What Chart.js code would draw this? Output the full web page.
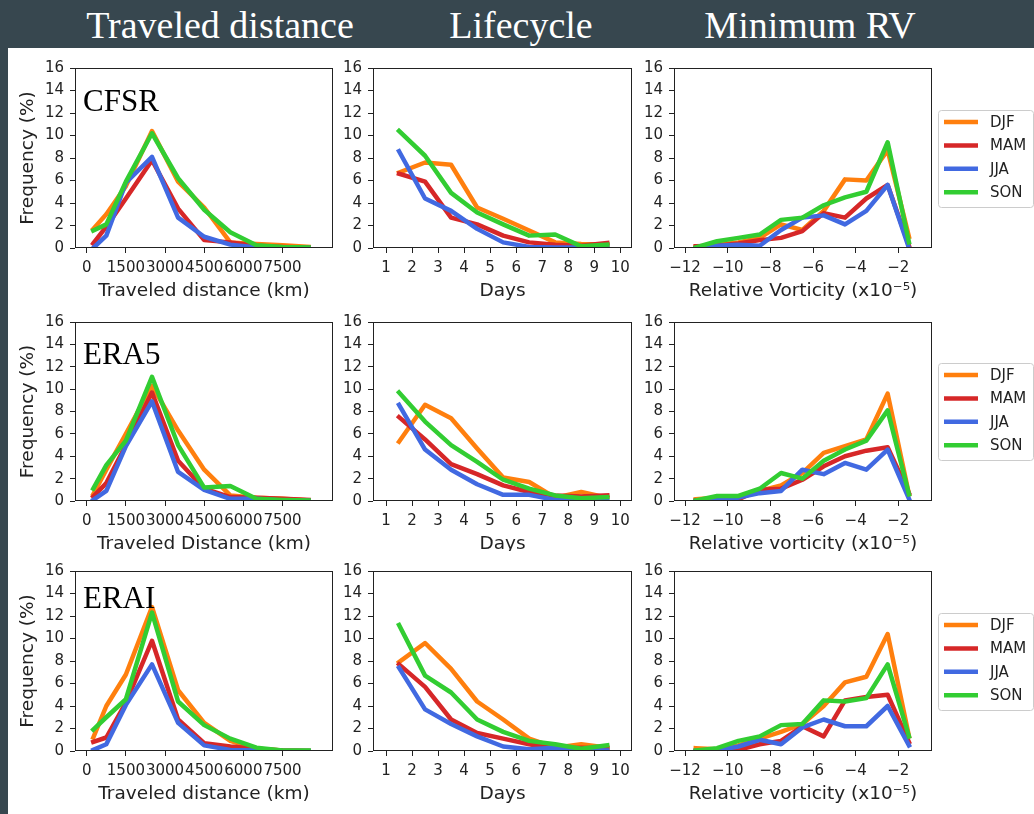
<!DOCTYPE html>
<html>
<head>
<meta charset="utf-8">
<script src="https://cdn.jsdelivr.net/npm/chart.js@4"></script>
<style>
  html, body { margin: 0; padding: 0; }
  body { width: 1034px; height: 814px; background: #37474f; position: relative; overflow: hidden; }
  #panel { position: absolute; left: 8px; top: 48px; width: 1026px; height: 766px; background: #fff; }
  .head { position: absolute; top: 5px; width: 320px; color: #fff; font-family: "Liberation Serif", serif;
          font-size: 38px; line-height: 40px; text-align: center; white-space: nowrap; }
  .box { position: absolute; overflow: hidden; }
</style>
</head>
<body>
<div id="panel"></div>
<div class="head" style="left:60px">Traveled distance</div>
<div class="head" style="left:361px">Lifecycle</div>
<div class="head" style="left:650px">Minimum RV</div>
<script>
// seasons, drawn in this order (SON ends up on top)
const seasons = ['DJF', 'MAM', 'JJA', 'SON'];
const seasonColors = ['#ff7f0e', '#d62728', '#4169e1', '#32cd32'];
const datasetNames = ['CFSR', 'ERA5', 'ERAI'];

// bin centres
const distanceBins = [250, 750, 1500, 2500, 3500, 4500, 5500, 6500, 7500, 8500];
const dayBins = [1.5, 2.5, 3.5, 4.5, 5.5, 6.5, 7.5, 8.5, 9.5];
const vorticityBins = [-11.5, -10.5, -9.5, -8.5, -7.5, -6.5, -5.5, -4.5, -3.5, -2.5, -1.5];

// tick labels
const distanceTicks = [0, 1500, 3000, 4500, 6000, 7500];
const dayTicks = [1, 2, 3, 4, 5, 6, 7, 8, 9, 10];
const vorticityTicks = [-12, -10, -8, -6, -4, -2];
const frequencyTicks = [0, 2, 4, 6, 8, 10, 12, 14, 16];

// frequency (%) per season: DJF, MAM, JJA, SON
const cfsrDistance = [
  [1.7, 3.0, 5.5, 10.4, 5.9, 3.6, 0.5, 0.35, 0.25, 0.1],
  [0.4, 1.9, 4.4, 7.8, 3.5, 0.7, 0.5, 0.2, 0.1, 0.05],
  [0.0, 1.1, 5.8, 8.1, 2.7, 1.0, 0.3, 0.05, 0.0, 0.0],
  [1.55, 2.1, 5.9, 10.2, 6.2, 3.4, 1.4, 0.25, 0.1, 0.05]
];
const cfsrDays = [
  [6.7, 7.6, 7.4, 3.6, 2.6, 1.55, 0.5, 0.35, 0.3],
  [6.6, 5.9, 2.7, 2.1, 1.1, 0.5, 0.3, 0.2, 0.45],
  [8.6, 4.4, 3.3, 1.7, 0.5, 0.1, 0.05, 0.05, 0.05],
  [10.4, 8.2, 4.9, 3.15, 2.1, 1.1, 1.2, 0.15, 0.3]
];
const cfsrVort = [
  [0.1, 0.3, 0.5, 0.9, 2.1, 1.6, 3.3, 6.1, 6.0, 8.7, 1.0],
  [0.15, 0.2, 0.4, 0.7, 0.9, 1.5, 3.1, 2.7, 4.4, 5.6, 0.2],
  [0.0, 0.2, 0.3, 0.2, 1.6, 2.7, 2.9, 2.1, 3.3, 5.6, 0.0],
  [0.05, 0.6, 0.9, 1.2, 2.5, 2.7, 3.8, 4.5, 5.0, 9.4, 0.5]
];
const era5Distance = [
  [0.6, 2.8, 6.0, 10.3, 6.3, 2.8, 0.5, 0.3, 0.2, 0.05],
  [0.4, 1.6, 5.0, 9.7, 3.6, 1.1, 0.35, 0.3, 0.2, 0.1],
  [0.1, 0.9, 4.9, 8.9, 2.6, 1.0, 0.2, 0.2, 0.05, 0.0],
  [1.1, 3.2, 5.4, 11.1, 5.0, 1.2, 1.35, 0.2, 0.1, 0.05]
];
const era5Days = [
  [5.3, 8.6, 7.4, 4.7, 2.1, 1.7, 0.3, 0.8, 0.3],
  [7.5, 5.5, 3.3, 2.4, 1.4, 0.8, 0.5, 0.4, 0.5],
  [8.6, 4.6, 2.8, 1.5, 0.55, 0.55, 0.1, 0.05, 0.05],
  [9.7, 7.1, 5.0, 3.5, 1.9, 1.1, 0.5, 0.25, 0.35]
];
const era5Vort = [
  [0.15, 0.3, 0.35, 0.9, 1.4, 2.5, 4.3, 4.9, 5.5, 9.6, 0.6],
  [0.05, 0.1, 0.15, 1.0, 1.1, 1.9, 3.1, 4.0, 4.5, 4.8, 0.7],
  [0.0, 0.1, 0.3, 0.7, 0.9, 2.8, 2.4, 3.4, 2.8, 4.6, 0.2],
  [0.05, 0.45, 0.45, 1.1, 2.5, 2.0, 3.6, 4.6, 5.4, 8.1, 0.6]
];
const eraiDistance = [
  [1.2, 4.0, 6.8, 12.8, 5.4, 2.5, 0.9, 0.2, 0.05, 0.0],
  [0.8, 1.2, 4.3, 9.8, 2.8, 0.7, 0.4, 0.2, 0.05, 0.0],
  [0.1, 0.6, 4.1, 7.7, 2.5, 0.5, 0.1, 0.05, 0.0, 0.0],
  [1.9, 3.0, 4.6, 12.3, 4.4, 2.3, 1.1, 0.3, 0.05, 0.05]
];
const eraiDays = [
  [7.9, 9.6, 7.3, 4.4, 2.8, 1.1, 0.3, 0.6, 0.3],
  [7.7, 5.7, 2.8, 1.6, 1.1, 0.6, 0.2, 0.3, 0.2],
  [7.4, 3.7, 2.4, 1.3, 0.4, 0.15, 0.3, 0.1, 0.05],
  [11.2, 6.7, 5.2, 2.8, 1.7, 0.9, 0.6, 0.2, 0.5]
];
const eraiVort = [
  [0.25, 0.15, 0.5, 1.1, 1.7, 2.4, 4.0, 6.1, 6.6, 10.4, 1.3],
  [0.0, 0.05, 0.1, 0.6, 0.9, 2.2, 1.3, 4.5, 4.8, 5.0, 0.8],
  [0.0, 0.05, 0.4, 1.0, 0.6, 2.1, 2.8, 2.2, 2.2, 4.0, 0.5],
  [0.05, 0.25, 0.9, 1.3, 2.3, 2.4, 4.5, 4.4, 4.7, 7.7, 1.3]
];

const rows = [
  [cfsrDistance, cfsrDays, cfsrVort],
  [era5Distance, era5Days, era5Vort],
  [eraiDistance, eraiDays, eraiVort]
];

const minus = v => (v < 0 ? '\u2212' + (-v) : String(v));
const columns = [
  { bins: distanceBins, ticks: distanceTicks, min: -450, max: 9435,
    titles: ['Traveled distance (km)', 'Traveled Distance (km)', 'Traveled distance (km)'] },
  { bins: dayBins, ticks: dayTicks, min: 0.5, max: 10.45,
    titles: ['Days', 'Days', 'Days'] },
  { bins: vorticityBins, ticks: vorticityTicks, min: -12.52, max: -0.42,
    titles: ['Relative Vorticity (x10\u207B\u2075)', 'Relative vorticity (x10\u207B\u2075)', 'Relative vorticity (x10\u207B\u2075)'] }
];

// plot boxes in page pixels
const colLeft = [75, 373, 674], colRight = [333, 632, 932];
const rowTop = [65, 319, 568], rowBottom = [248, 501, 751];
const rowClip = [0, 551, 0];
const nameBaseline = [43, 42, 37];

const ink = '#222';
const tickFont = { family: 'DejaVu Sans', size: 15 };
const titleFont = { family: 'DejaVu Sans', size: 18.5 };

const panelPlugin = {
  id: 'panel',
  afterDatasetsDraw(chart, args, o) {
    const { ctx, chartArea: a } = chart;
    ctx.save();
    // full frame like matplotlib spines
    ctx.strokeStyle = ink;
    ctx.lineWidth = 1;
    ctx.strokeRect(Math.round(a.left) + 0.5, Math.round(a.top) + 0.5,
      Math.round(a.right - a.left) - 1, Math.round(a.bottom - a.top) - 1);

    if (o.name) {
      ctx.fillStyle = '#000';
      ctx.font = '31px "Liberation Serif"';
      ctx.textBaseline = 'alphabetic';
      ctx.textAlign = 'left';
      ctx.fillText(o.name, a.left + 8, a.top + o.nameY);
    }

    if (o.legend) {
      const bw = 95, bh = 97;
      const bx = a.right + 6, by = Math.round((a.top + a.bottom) / 2 - bh / 2);
      ctx.beginPath();
      ctx.roundRect(bx + 0.5, by + 0.5, bw, bh, 3);
      ctx.fillStyle = 'rgba(255,255,255,0.8)';
      ctx.fill();
      ctx.strokeStyle = '#cccccc';
      ctx.stroke();
      chart.data.datasets.forEach((ds, i) => {
        const y = by + 12 + i * 23.4;
        ctx.beginPath();
        ctx.moveTo(bx + 6, y);
        ctx.lineTo(bx + 40, y);
        ctx.strokeStyle = ds.borderColor;
        ctx.lineWidth = 4.5;
        ctx.stroke();
        ctx.fillStyle = ink;
        ctx.font = '15px "DejaVu Sans"';
        ctx.textBaseline = 'middle';
        ctx.fillText(ds.label, bx + 52, y + 1);
      });
    }
    ctx.restore();
  }
};

rows.forEach((rowData, r) => columns.forEach((col, c) => {
  const yW = c === 0 ? 59 : 44, padTop = 12, padRight = c === 2 ? 102 : 8, xH = 54;
  const left = colLeft[c] - yW, top = rowTop[r] - padTop;
  const w = colRight[c] - colLeft[c] + yW + padRight;
  const h = rowBottom[r] - rowTop[r] + padTop + xH;

  const wrap = document.createElement('div');
  wrap.className = 'box';
  wrap.style.left = left + 'px';
  wrap.style.top = top + 'px';
  wrap.style.width = w + 'px';
  wrap.style.height = (rowClip[r] ? rowClip[r] - top : h) + 'px';
  const cv = document.createElement('canvas');
  cv.width = w; cv.height = h;
  cv.style.width = w + 'px'; cv.style.height = h + 'px';
  wrap.appendChild(cv);
  document.body.appendChild(wrap);

  const series = rowData[c];
  new Chart(cv, {
    type: 'line',
    data: {
      datasets: seasons.map((s, i) => ({
        label: s,
        data: col.bins.map((x, k) => ({ x: x, y: series[i][k] })),
        borderColor: seasonColors[i],
        backgroundColor: seasonColors[i],
        borderWidth: 4.5,
        borderCapStyle: 'square',
        borderJoinStyle: 'round',
        pointRadius: 0,
        tension: 0,
        fill: false,
        clip: 0,
        order: seasons.length - i
      }))
    },
    options: {
      responsive: false,
      animation: false,
      devicePixelRatio: 1,
      events: [],
      layout: { padding: { top: padTop, right: padRight, left: 0, bottom: 0 } },
      plugins: {
        legend: { display: false },
        tooltip: { enabled: false },
        panel: { name: c === 0 ? datasetNames[r] : '', nameY: nameBaseline[r], legend: c === 2 }
      },
      scales: {
        x: {
          type: 'linear',
          min: col.min,
          max: col.max,
          afterBuildTicks: s => { s.ticks = col.ticks.map(v => ({ value: v })); },
          afterFit: s => { s.height = xH; },
          grid: { display: true, drawOnChartArea: false, drawTicks: true, tickLength: 5, color: ink },
          border: { display: false },
          ticks: { autoSkip: false, maxRotation: 0, minRotation: 0, padding: 6, color: ink, font: tickFont,
                   callback: v => minus(v) },
          title: { display: true, text: col.titles[r], color: ink, font: titleFont, padding: { top: 0, bottom: 0 } }
        },
        y: {
          type: 'linear',
          min: 0,
          max: 16,
          afterBuildTicks: s => { s.ticks = frequencyTicks.map(v => ({ value: v })); },
          afterFit: s => { s.width = yW; },
          grid: { display: true, drawOnChartArea: false, drawTicks: true, tickLength: 5, color: ink },
          border: { display: false },
          ticks: { padding: 6, color: ink, font: tickFont, callback: v => String(v) },
          title: { display: c === 0, text: 'Frequency (%)', color: ink, font: titleFont, padding: { top: 1, bottom: 0 } }
        }
      }
    },
    plugins: [panelPlugin]
  });
}));
</script>
</body>
</html>
